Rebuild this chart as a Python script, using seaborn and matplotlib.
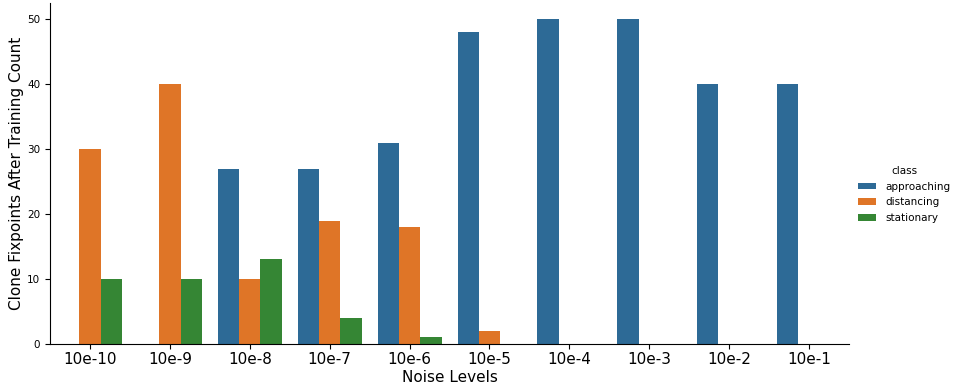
import matplotlib
matplotlib.use("Agg")
import matplotlib.pyplot as plt
import seaborn as sns
import pandas as pd

# noise levels on the x axis
noise_levels = ['10e-10', '10e-9', '10e-8', '10e-7', '10e-6',
                '10e-5', '10e-4', '10e-3', '10e-2', '10e-1']

# counts per class for each noise level
approaching = [0, 0, 27, 27, 31, 48, 50, 50, 40, 40]
distancing = [30, 40, 10, 19, 18, 2, 0, 0, 0, 0]
stationary = [10, 10, 13, 4, 1, 0, 0, 0, 0, 0]

classes = ['approaching', 'distancing', 'stationary']

# long-form table for catplot
rows = []
for name, values in zip(classes, [approaching, distancing, stationary]):
    for level, value in zip(noise_levels, values):
        rows.append({'noise': level, 'count': value, 'class': name})
df = pd.DataFrame(rows)

plt.rcParams['font.family'] = ['DejaVu Sans']

g = sns.catplot(data=df, x='noise', y='count', hue='class', kind='bar',
                order=noise_levels, hue_order=classes,
                palette=['#2d6a96', '#df7527', '#358634'], saturation=1,
                height=3.89, aspect=2.2)
g.figure.set_size_inches(9.55, 3.89)
g.figure.subplots_adjust(left=0.0524, right=0.889, bottom=0.116, top=0.992)

ax = g.ax
ax.set_xlabel('Noise Levels', fontsize=11, labelpad=2)
ax.set_ylabel('Clone Fixpoints After Training Count', fontsize=11,
              labelpad=2)
ax.tick_params(axis='x', labelsize=11, pad=2.5)
ax.tick_params(axis='y', labelsize=7.5)
ax.set_yticks([0, 10, 20, 30, 40, 50])
ax.set_ylim(0, 52.5)
ax.set_xlim(-0.5, len(noise_levels) - 0.5)

sns.move_legend(g, 'center right', bbox_to_anchor=(1.005, 0.5),
                frameon=False, title='class', fontsize=7.5,
                title_fontsize=7.5, handlelength=1.8, handleheight=0.6,
                labelspacing=0.55, handletextpad=0.85)

g.figure.savefig('out.png', dpi=100)
